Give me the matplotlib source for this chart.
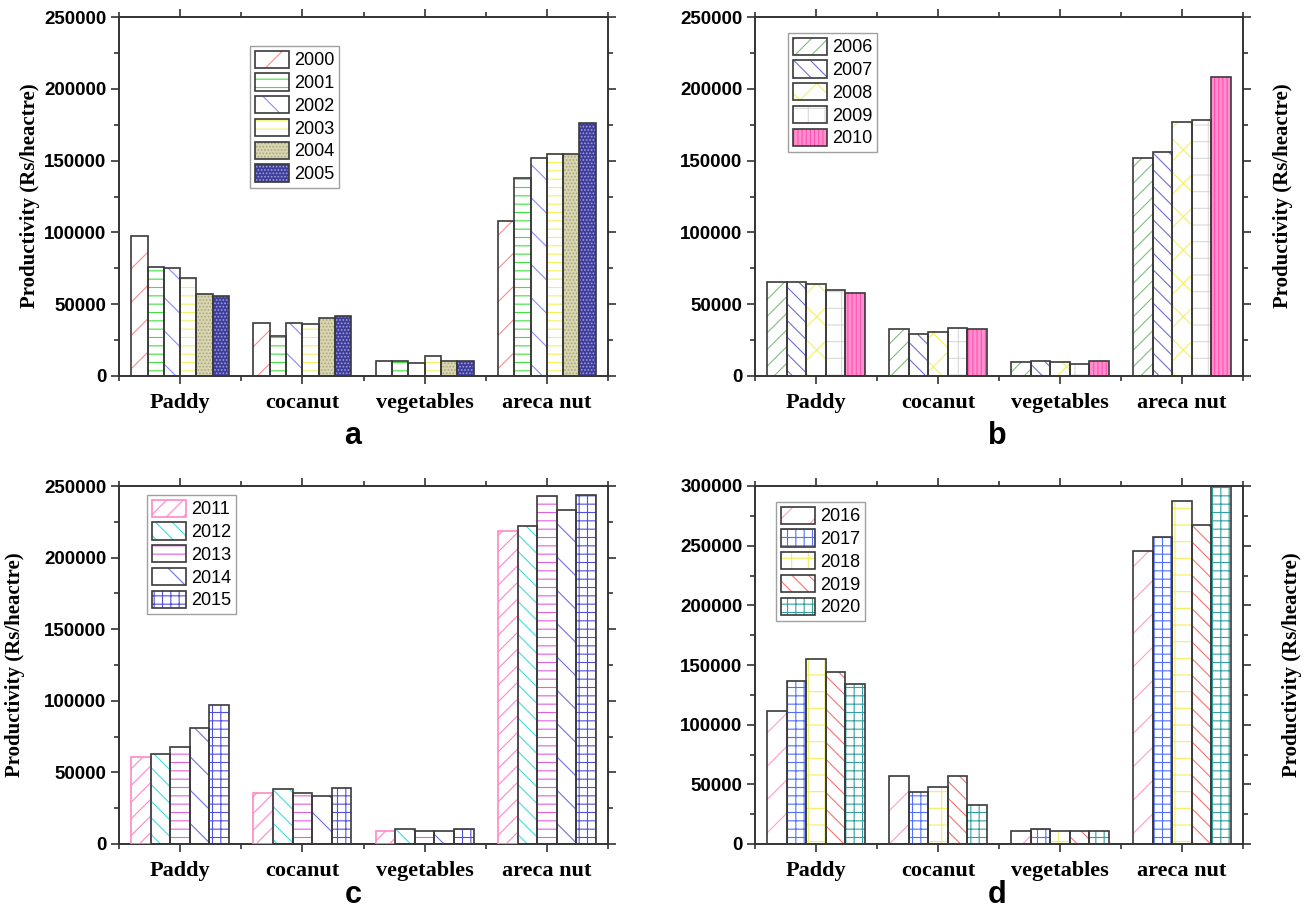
import numpy as np
import matplotlib
matplotlib.use('Agg')
import matplotlib.pyplot as plt
from matplotlib.patches import Patch
from matplotlib.legend_handler import HandlerTuple
from matplotlib.ticker import FixedLocator, MultipleLocator

plt.rcParams['hatch.linewidth'] = 0.8

CROPS = ['Paddy', 'cocanut', 'vegetables', 'areca nut']

YEARS_A = ['2000', '2001', '2002', '2003', '2004', '2005']
VALS_A = [
    [97500, 37000, 10400, 108000],
    [76000, 28000, 10400, 137800],
    [75000, 37000, 8800, 151500],
    [68000, 36500, 13700, 154500],
    [57000, 40500, 10400, 154700],
    [55800, 42000, 10400, 176300],
]

YEARS_B = ['2006', '2007', '2008', '2009', '2010']
VALS_B = [
    [65800, 32500, 9500, 151700],
    [65700, 29300, 10400, 155900],
    [64400, 30700, 9500, 176600],
    [60200, 33500, 8600, 178400],
    [57600, 33000, 10400, 208200],
]

YEARS_C = ['2011', '2012', '2013', '2014', '2015']
VALS_C = [
    [60500, 35600, 9300, 218600],
    [62800, 38400, 10200, 222100],
    [67700, 35600, 9300, 243200],
    [81200, 33300, 8800, 233000],
    [97300, 39300, 10200, 243500],
]

YEARS_D = ['2016', '2017', '2018', '2019', '2020']
VALS_D = [
    [111400, 57100, 10900, 245400],
    [136600, 43900, 12300, 257500],
    [155000, 48100, 10900, 287100],
    [144400, 57100, 10900, 267000],
    [134300, 32700, 10900, 305000],
]

EDGE = '#3a3a3a'
# (face, hatch colour, hatch, outline)
STYLE_A = [
    ('white', '#ff8a8a', '/', EDGE),
    ('white', '#40e040', '--', EDGE),
    ('white', '#8a8aff', '\\', EDGE),
    ('white', '#f5f060', '--', EDGE),
    ('#d9d6b2', '#aaa47a', '.....', EDGE),
    ('#3d3d9c', '#a0a0d8', '.....', EDGE),
]
STYLE_B = [
    ('white', '#80c080', '//', EDGE),
    ('white', '#7070d0', '\\\\', EDGE),
    ('white', '#f5f060', 'x', EDGE),
    ('white', '#d8d8d8', '+', EDGE),
    ('#ff90d0', '#ff50b0', '||||', EDGE),
]
STYLE_C = [
    ('white', '#ff88c8', '//', '#ff88c8'),
    ('white', '#40e0e0', '\\\\', EDGE),
    ('white', '#e060e0', '--', EDGE),
    ('white', '#7070e0', '\\', EDGE),
    ('white', '#5050e0', '++', EDGE),
]
STYLE_D = [
    ('white', '#ff9ccc', '/', EDGE),
    ('white', '#5070ff', '++', EDGE),
    ('white', '#f0f060', '+', EDGE),
    ('white', '#ff7070', '\\\\', EDGE),
    ('white', '#30a0a0', '++', EDGE),
]

SANS = 'Liberation Sans'
SERIF = 'Liberation Serif'
YLABEL = 'Productivity (Rs/heactre)'


def draw_panel(ax, years, vals, styles, ymax, legend_pos):
    n = len(years)
    x = np.arange(len(CROPS))
    w = 0.8 / n
    handles = []
    for i in range(n):
        face, hc, hatch, edge = styles[i]
        pos = x - 0.4 + w * (i + 0.5)
        ax.bar(pos, vals[i], w, color=face, edgecolor=hc, hatch=hatch,
               linewidth=0, zorder=2)
        ax.bar(pos, vals[i], w, fill=False, edgecolor=edge, linewidth=1.2,
               zorder=3)
        handles.append((Patch(facecolor=face, edgecolor=hc, hatch=hatch, linewidth=0),
                        Patch(fill=False, edgecolor=edge, linewidth=1.2)))
    ax.set_xlim(-0.5, 3.5)
    ax.set_ylim(0, ymax)
    ax.set_xticks(x)
    ax.set_xticklabels(CROPS, fontfamily=SERIF, fontweight='bold', fontsize=16)
    ax.xaxis.set_minor_locator(FixedLocator([-0.5, 0.5, 1.5, 2.5, 3.5]))
    ax.yaxis.set_major_locator(MultipleLocator(50000))
    ax.yaxis.set_minor_locator(MultipleLocator(25000))
    for lab in ax.get_yticklabels():
        lab.set_fontfamily(SANS)
        lab.set_fontweight('bold')
        lab.set_fontsize(13.5)
    ax.tick_params(which='both', direction='out', top=True, right=True,
                   width=1.2, color='#333333')
    ax.tick_params(which='major', length=6)
    ax.tick_params(which='minor', length=3.5)
    ax.tick_params(axis='x', pad=6)
    ax.tick_params(axis='y', pad=3)
    for sp in ax.spines.values():
        sp.set_linewidth(1.4)
        sp.set_color('#333333')
    leg = ax.legend(handles, years,
                    handler_map={tuple: HandlerTuple(ndivide=1, pad=0)},
                    loc='upper left', bbox_to_anchor=legend_pos,
                    bbox_transform=ax.figure.transFigure,
                    prop={'family': SANS, 'size': 13}, fancybox=False,
                    framealpha=1, edgecolor='#a0a0a0', handlelength=1.9,
                    handleheight=1.1, labelspacing=0.22, handletextpad=0.3,
                    borderpad=0.25, borderaxespad=0)
    leg.get_frame().set_linewidth(1.0)


W, H = 1312, 914
fig = plt.figure(figsize=(W / 100, H / 100), dpi=100)


def axes_px(l, r, t, b):
    return fig.add_axes([l / W, 1 - b / H, (r - l) / W, (b - t) / H])


ax_a = axes_px(119, 608, 17, 376)
ax_b = axes_px(755, 1243, 17, 376)
ax_c = axes_px(119, 608, 486, 844)
ax_d = axes_px(755, 1243, 486, 844)

draw_panel(ax_a, YEARS_A, VALS_A, STYLE_A, 250000, (250 / W, 1 - 46 / H))
draw_panel(ax_b, YEARS_B, VALS_B, STYLE_B, 250000, (788 / W, 1 - 33 / H))
draw_panel(ax_c, YEARS_C, VALS_C, STYLE_C, 250000, (147 / W, 1 - 495 / H))
draw_panel(ax_d, YEARS_D, VALS_D, STYLE_D, 300000, (776 / W, 1 - 502 / H))

for xp, yp in [(30, 196), (1283, 196), (15, 665), (1292, 665)]:
    fig.text(xp / W, 1 - yp / H, YLABEL, rotation=90, ha='center', va='center',
             fontfamily=SERIF, fontweight='bold', fontsize=15)

for letter, xp, yp in [('a', 353, 436), ('b', 997, 436), ('c', 353, 895), ('d', 997, 895)]:
    fig.text(xp / W, 1 - yp / H, letter, ha='center', va='center',
             fontfamily=SANS, fontweight='bold', fontsize=22)

fig.savefig('out.png', dpi=100)
